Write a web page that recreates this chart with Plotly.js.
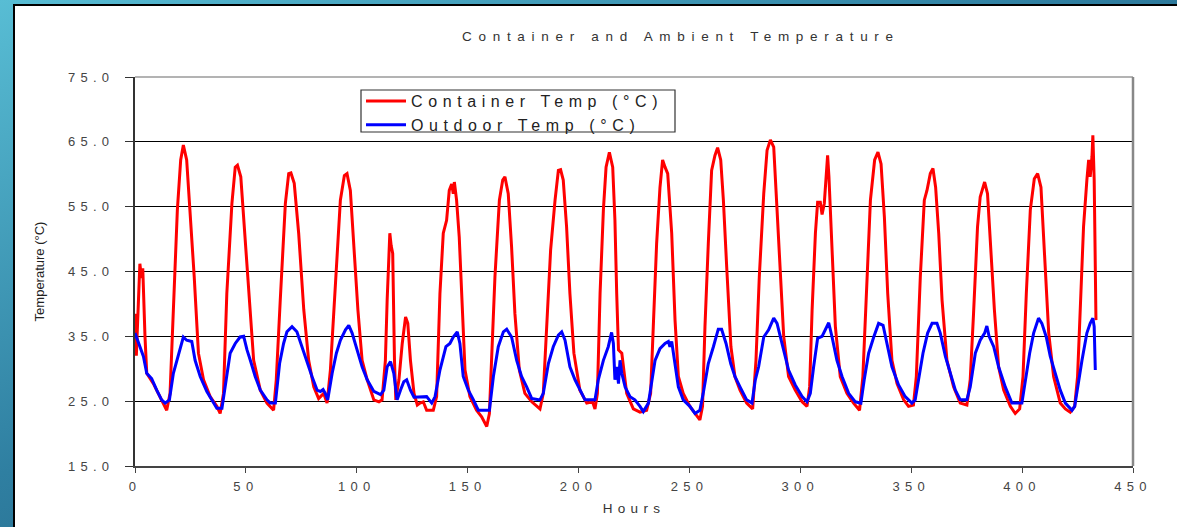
<!DOCTYPE html>
<html>
<head>
<meta charset="utf-8">
<script src="https://cdn.plot.ly/plotly-3.0.1.min.js"></script>
<style>
  html, body { margin: 0; padding: 0; width: 1177px; height: 527px; overflow: hidden; }
  body { background: linear-gradient(to bottom right, #58bdd4 0%, #2f7fa1 45%, #1b4a6c 100%); position: relative; }
  #panel { position: absolute; left: 13px; top: 4px; right: 0; bottom: 0; background: #fff; border-left: 2px solid #000; border-top: 2px solid #000; }
  #chart { position: absolute; left: 0; top: 0; width: 1177px; height: 527px; }
  text.gtitle { letter-spacing: 6.7px; }
  g.xtick text, g.ytick text { letter-spacing: 5.3px; }
  text.xtitle { letter-spacing: 5.3px; }
  text.legendtext { letter-spacing: 5.6px; }
</style>
</head>
<body>
<div id="panel"></div>
<div id="chart"></div>
<script>
// Container temperature (°C) vs hours
const containerHours = [0,0.6,1.5,2.2,2.9,3.5,4.5,5.3,8.3,11.3,14.3,15.8,17.3,19.1,20.6,21.8,23.3,24.8,26.7,28.6,30.9,33.9,36.9,38.4,39.9,41.4,43.7,45.2,46.2,47.7,49.2,51.2,53.5,56.5,59.5,62.5,63.7,65.5,67.8,69.3,70.3,71.8,73.8,76.1,78.3,80.6,82.8,85.1,86.6,88.1,90.4,92.6,94.4,95.6,97.1,98.6,100.5,102.4,104.7,107.7,110.0,111.4,112.9,113.7,114.9,115.5,116.2,117.0,117.6,119.0,120.5,122.0,123.0,124.2,125.8,127.3,128.5,130,131.5,134.5,136.0,137.5,139.0,140.5,141.7,142.8,143.5,144.0,145.0,146.2,147.3,148.8,151.0,154.0,156.3,158.6,159.8,160.8,162.3,164.3,165.8,166.8,168.3,169.8,171.3,173.3,175.8,178.9,182.6,184.1,185.6,187.4,189.4,190.9,191.9,193.1,194.6,196.1,197.9,200.6,203.7,206.3,207.4,208.5,209.7,211.2,212.4,213.9,215.4,216.4,217.2,218.0,219.5,220.5,221.7,224.7,227.7,230.7,232.5,233.7,235.2,236.7,237.9,239.0,240.2,242.0,243.5,245.0,247.2,250.2,252.5,254.7,255.9,257.0,258.5,260.0,261.5,262.7,264.1,265.3,266.8,268.7,270.5,272.8,275.8,278.5,280.0,281.5,283.5,285.0,286.5,288.0,289.5,291.0,292.5,294.7,297.7,300.8,303.0,304.2,305.3,306.8,307.8,309.0,309.8,310.8,311.7,312.3,312.9,314.3,315.8,318.0,321.0,324.0,326.7,328.2,329.8,331.6,333.5,335.0,336.4,337.9,339.4,341.3,343.6,346.6,348.8,351.0,352.3,354.1,355.9,357.1,358.6,359.8,361.0,362.4,363.9,366.1,369.1,372.1,375.1,376.6,378.1,379.9,381.1,383.1,384.4,385.9,387.5,389.4,391.7,394.7,396.9,398.9,400.4,401.9,403.7,405.5,407.0,408.5,410.0,412.0,414.2,417.2,419.5,421.7,423.7,425.0,426.5,427.7,429.2,430.0,430.7,431.5,431.9,432.5,433.0,433.3];
const containerTemp = [38.5,32.0,40,46.2,44.0,45.5,35.0,29.3,27.7,25.7,23.6,26.2,40.1,54.5,62.2,64.5,62.2,54.5,44.2,32.4,28.3,25.7,24.2,23.1,26.2,41.6,55.5,61.1,61.4,59.6,51.9,41.6,31.3,26.7,24.7,23.6,28.3,40.6,55.5,60.1,60.2,58.6,50.9,39.1,31.3,27.2,25.4,26.2,24.7,29.8,44.2,56.0,59.8,60.1,57.5,48.8,39.1,31.3,28.3,25.2,24.9,25.2,31.3,40.6,50.9,49.0,47.8,31.3,25.2,28.3,33.9,38.0,37.0,31.3,26.2,24.4,24.7,24.9,23.6,23.6,25.7,41.6,50.9,52.9,57.5,58.5,57.0,58.8,56.0,50.3,41.6,29.8,25.7,23.6,22.6,21.1,23.1,31.3,44.2,56.0,59.1,59.6,57.0,48.8,38.5,29.8,26.2,24.9,23.8,26.2,36.5,48.3,56.0,60.6,60.7,59.1,51.9,41.6,32.4,26.7,24.7,24.9,23.8,26.2,41.6,54.5,61.1,63.4,61.1,52.9,41.6,32.9,32.4,29.3,26.2,23.8,23.3,23.6,26.2,36.5,49.3,57.9,62.2,61.1,60.1,50.9,37.5,28.8,26.2,24.2,23.1,22.1,24.2,36.5,49.3,60.6,62.9,64.1,62.2,56.0,45.7,33.4,28.8,26.7,24.7,23.8,31.3,44.2,57.0,63.7,65.3,64.2,54.5,44.7,35.0,28.8,26.7,24.9,24.2,27.2,39.0,50.9,55.7,55.7,53.8,55.5,61.1,62.9,59.6,48.8,36.5,28.8,26.2,24.7,23.6,28.8,41.6,56.0,62.2,63.4,61.6,53.4,41.6,31.3,27.7,25.2,24.2,24.4,28.8,44.2,56.0,57.5,60.1,60.9,58.0,50.9,40.6,31.3,27.2,24.7,24.4,28.3,38.5,51.9,56.5,58.8,57.0,48.3,39.1,30.3,26.7,24.2,23.1,23.8,28.8,41.6,54.5,59.3,60.1,58.0,48.8,35.5,28.8,24.7,23.8,23.3,24.2,28.8,41.6,51.9,59.1,62.2,59.6,62.7,66.0,59.1,45.7,37.5];

// Outdoor temperature (°C) vs hours
const outdoorHours = [0,2.3,3.8,5.3,7.5,9.8,12.0,13.6,15.5,17.3,19.6,21.8,23.3,25.6,27.1,29.4,32.4,35.4,36.9,39.2,40.7,42.9,45.2,47.4,49.0,50.5,52.0,54.2,56.5,59.5,61.0,63.3,65.2,67.0,68.5,70.8,73.0,75.3,77.6,79.8,82.1,83.6,84.8,85.8,86.9,88.9,90.8,92.6,94.9,96.4,97.9,100.2,102.4,104.7,107.7,110.7,112.2,113.7,115.2,116.7,118.2,119.7,121.2,122.5,124.2,125.8,128.5,131.5,133.8,135.3,137.5,140.2,142.0,143.5,145.3,146.5,148.0,150.3,152.6,154.8,159.8,161.6,163.8,166.1,167.6,169.8,172.1,174.3,176.6,178.9,182.6,184.1,186.4,188.6,190.9,192.4,193.9,196.1,198.4,200.6,202.9,207.4,208.9,211.2,213.4,214.9,215.7,216.4,217.2,218.0,218.7,219.5,221.0,223.2,225.4,227.7,229.2,231.5,233.0,234.5,236.7,239.0,240.5,241.2,242.0,243.5,245.0,247.2,250.2,252.5,254.7,256.2,258.5,260.8,263.0,264.5,266.5,268.6,270.5,272.8,275.8,278.2,279.7,281.2,283.5,285.7,288.0,289.5,291.7,294.7,297.7,300.8,303.0,304.5,306.0,307.8,309.8,311.3,312.8,314.3,316.5,318.8,321.8,324.8,327.3,328.8,330.8,333.1,335.3,337.3,339.1,341.3,344.3,347.3,350.3,351.8,353.3,355.3,357.4,359.4,361.6,363.1,365.4,367.6,369.9,372.1,375.1,376.6,378.9,381.1,383.1,384.1,385.1,387.2,389.4,392.4,395.4,399.9,401.4,403.4,405.2,407.4,408.9,410.9,412.7,414.9,417.2,419.5,422.5,423.7,425.5,427.0,429.2,430.7,431.9,432.5,433.0];
const outdoorTemp = [35.5,33.4,31.9,29.3,28.5,26.7,25.2,24.7,25.2,29.3,32.4,34.9,34.4,34.2,31.3,28.8,26.5,24.7,23.9,23.9,27.2,32.4,33.9,34.9,35.0,32.9,31.3,28.8,26.7,25.2,24.7,24.7,30.8,33.9,35.7,36.5,35.7,33.4,30.8,28.8,26.7,26.5,26.8,26.2,25.2,29.3,32.4,34.4,36.0,36.7,35.5,32.9,30.3,28.3,26.5,26.0,26.7,30.3,31.1,29.3,25.2,26.7,28.0,28.3,26.7,25.6,25.6,25.7,24.7,25.7,29.8,33.4,33.9,34.9,35.7,33.9,28.8,26.7,25.2,23.6,23.6,28.8,33.4,35.7,36.1,34.9,31.3,28.8,27.2,25.4,25.2,26.2,30.8,33.4,35.2,35.7,34.4,30.3,28.3,26.7,25.2,25.2,28.3,31.3,33.4,35.6,33.9,28.3,30.3,27.7,31.3,29.3,27.2,25.7,25.2,24.2,23.4,24.7,28.3,31.3,33.1,33.9,34.2,33.4,34.2,30.3,27.2,25.2,24.2,23.1,23.6,26.2,30.8,33.4,36.1,36.1,33.9,30.8,28.8,27.2,25.2,24.7,28.3,30.3,34.9,36.0,37.8,37.0,33.9,29.8,27.5,25.7,24.9,26.2,30.3,34.7,35.0,36.0,37.1,34.9,31.3,28.8,26.2,24.9,24.7,28.3,32.4,34.9,37.0,36.7,33.9,30.3,27.5,25.7,24.7,25.2,28.3,32.4,35.5,37.0,37.0,35.5,31.9,29.3,26.7,25.2,25.2,27.2,32.4,34.4,35.5,36.6,35.0,33.4,30.3,27.2,24.7,24.7,28.3,32.4,35.5,37.8,37.0,34.9,31.9,29.3,26.7,24.7,23.6,24.2,28.3,31.3,35.5,37.0,37.8,36.5,29.8];

const chartTitle = 'Container and Ambient Temperature';
const xTitle = 'Hours';
const yTitle = 'Temperature (°C)';
const seriesNames = ['Container Temp (°C)', 'Outdoor Temp (°C)'];

const FONT = 'Liberation Sans, Arial, sans-serif';

const traces = [
  { x: containerHours, y: containerTemp, name: seriesNames[0], type: 'scatter', mode: 'lines',
    line: { color: '#ff0000', width: 3 } },
  { x: outdoorHours, y: outdoorTemp, name: seriesNames[1], type: 'scatter', mode: 'lines',
    line: { color: '#0000ff', width: 3 } }
];

// plot area in pixels: x 135..1133, y 77..466
const W = 1177, H = 527, L = 135, R = 44, T = 77, B = 61;
const pw = W - L - R, ph = H - T - B;
const px = v => (v - L) / pw;
const py = v => (H - B - v) / ph;

const layout = {
  width: W, height: H,
  paper_bgcolor: 'rgba(0,0,0,0)',
  plot_bgcolor: 'rgba(0,0,0,0)',
  margin: { l: L, r: R, t: T, b: B },
  font: { family: FONT, color: '#333', size: 13 },
  title: { text: chartTitle, xref: 'container', x: 0.5785, yref: 'container', y: 0.932, yanchor: 'middle',
    font: { size: 13.5, color: '#333' } },
  showlegend: true,
  legend: { x: px(361), y: py(84), xanchor: 'left', yanchor: 'top', bgcolor: 'rgba(0,0,0,0)',
    borderwidth: 0, font: { size: 16, color: '#222' }, itemwidth: 40, tracegroupgap: 0 },
  xaxis: {
    range: [0, 450], dtick: 50, tick0: 0, showgrid: false, zeroline: false,
    showline: true, linecolor: '#444', linewidth: 1.5,
    ticks: 'outside', ticklen: 5, tickcolor: '#444', tickwidth: 1, ticklabelstandoff: 3,
    tickfont: { size: 13, color: '#444' },
    title: { text: xTitle, font: { size: 13.5, color: '#333' }, standoff: 10 }
  },
  yaxis: {
    range: [15, 75], dtick: 10, tick0: 15, tickformat: '.1f', zeroline: false,
    showgrid: true, gridcolor: '#000', gridwidth: 1,
    showline: true, linecolor: '#333', linewidth: 2,
    ticks: 'outside', ticklen: 8, tickcolor: '#333', tickwidth: 1, ticklabelstandoff: 8,
    tickfont: { size: 13, color: '#444' },
    title: { text: yTitle, font: { size: 13, color: '#222' }, standoff: 20 }
  },
  shapes: [
    { type: 'line', xref: 'paper', yref: 'paper', x0: 0, x1: 1, y0: 1, y1: 1, line: { color: '#9a9a9a', width: 1.5 } },
    { type: 'line', xref: 'paper', yref: 'paper', x0: 1, x1: 1, y0: 0, y1: 1, line: { color: '#888', width: 2.5 } },
    { type: 'rect', xref: 'paper', yref: 'paper', layer: 'above',
      x0: px(361), x1: px(675), y0: py(132), y1: py(90),
      fillcolor: '#ffffff', line: { color: '#333', width: 1.2 } }
  ]
};

Plotly.newPlot('chart', traces, layout, { displayModeBar: false, staticPlot: true });
</script>
</body>
</html>
